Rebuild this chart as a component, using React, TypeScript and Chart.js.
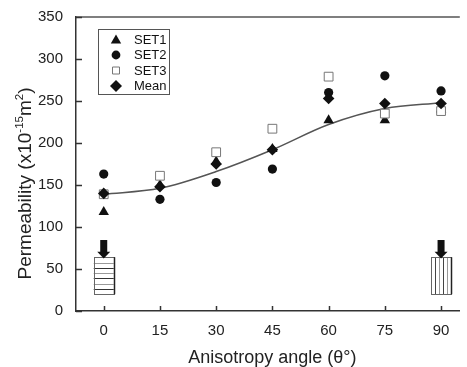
import React, { useEffect, useRef } from 'react';
import { Chart, registerables } from 'chart.js';
Chart.register(...registerables);

// ---- data ----
const ANGLES = [0, 15, 30, 45, 60, 75, 90];
const SET1 = [118, 150, 178, 193, 227, 227, 240];
const SET2 = [163, 133, 153, 169, 260, 280, 262];
const SET3 = [139, 161, 189, 217, 279, 235, 238];
const MEAN = [140, 148, 175, 192, 253, 247, 247];
const FIT_ANGLES = [0, 15, 30, 45, 60, 75, 90];
const FIT_VALUES = [139, 146, 166, 192, 222, 241, 248];
const X_TICKS = [0, 15, 30, 45, 60, 75, 90];
const Y_TICKS = [0, 50, 100, 150, 200, 250, 300, 350];
const LEGEND_LABELS = ['SET1', 'SET2', 'SET3', 'Mean'];
const INSET_ANGLES = [0, 90];
const INSET_RANGE = [20, 64];
const ARROW_RANGE = [62.5, 70.5, 84.5];

const FONT = "'Liberation Sans', Arial, sans-serif";
const INK = '#111';

function drawMarker(ctx: CanvasRenderingContext2D, style: string, x: number, y: number) {
  ctx.save();
  ctx.beginPath();
  if (style === 'triangle') {
    const r = 6;
    ctx.moveTo(x, y - r);
    ctx.lineTo(x + r * Math.sin((2 * Math.PI) / 3), y + r * 0.5);
    ctx.lineTo(x - r * Math.sin((2 * Math.PI) / 3), y + r * 0.5);
    ctx.closePath();
    ctx.fillStyle = INK;
    ctx.fill();
  } else if (style === 'circle') {
    ctx.arc(x, y, 4.4, 0, Math.PI * 2);
    ctx.fillStyle = INK;
    ctx.fill();
  } else if (style === 'rect') {
    ctx.rect(x - 3.5, y - 3.5, 7, 7);
    ctx.fillStyle = '#fff';
    ctx.fill();
    ctx.strokeStyle = '#777';
    ctx.lineWidth = 1;
    ctx.stroke();
  } else {
    const r = 6;
    ctx.moveTo(x - r, y);
    ctx.lineTo(x, y - r);
    ctx.lineTo(x + r, y);
    ctx.lineTo(x, y + r);
    ctx.closePath();
    ctx.fillStyle = INK;
    ctx.fill();
  }
  ctx.restore();
}

const decorPlugin = {
  id: 'decor',
  afterDraw(chart: any) {
    const { ctx, chartArea } = chart;
    const xs = chart.scales.x;
    const ys = chart.scales.y;
    ctx.save();

    // top frame line
    ctx.strokeStyle = '#555';
    ctx.lineWidth = 1.5;
    ctx.beginPath();
    ctx.moveTo(chartArea.left, chartArea.top);
    ctx.lineTo(chartArea.right, chartArea.top);
    ctx.stroke();

    // inward ticks
    ctx.strokeStyle = '#333';
    ctx.lineWidth = 1.5;
    ctx.beginPath();
    X_TICKS.forEach((v) => {
      const px = Math.round(xs.getPixelForValue(v)) + 0.5;
      ctx.moveTo(px, chartArea.bottom);
      ctx.lineTo(px, chartArea.bottom - 5);
    });
    Y_TICKS.forEach((v) => {
      const py = Math.round(ys.getPixelForValue(v)) + 0.5;
      ctx.moveTo(chartArea.left, py);
      ctx.lineTo(chartArea.left + 6, py);
    });
    ctx.stroke();

    // sample insets with arrows
    INSET_ANGLES.forEach((a, i) => {
      const cx = xs.getPixelForValue(a);
      const top = ys.getPixelForValue(INSET_RANGE[1]);
      const bot = ys.getPixelForValue(INSET_RANGE[0]);
      const left = cx - 10;
      const w = 20;
      const h = bot - top;
      ctx.fillStyle = '#fff';
      ctx.fillRect(left, top, w, h);
      ctx.lineWidth = 1;
      if (i === 0) {
        for (let k = 1; k < 7; k++) {
          const y = Math.round(top + (k * h) / 7) + 0.5;
          ctx.strokeStyle = k % 2 ? '#999' : '#333';
          ctx.beginPath();
          ctx.moveTo(left, y);
          ctx.lineTo(left + w, y);
          ctx.stroke();
        }
      } else {
        for (let k = 1; k < 5; k++) {
          const x = Math.round(left + (k * w) / 5) + 0.5;
          ctx.strokeStyle = k % 2 ? '#444' : '#999';
          ctx.beginPath();
          ctx.moveTo(x, top);
          ctx.lineTo(x, bot);
          ctx.stroke();
        }
      }
      ctx.strokeStyle = '#666';
      ctx.lineWidth = 1;
      ctx.strokeRect(Math.round(left) + 0.5, Math.round(top) + 0.5, w, Math.round(h));
      ctx.strokeStyle = '#222';
      ctx.lineWidth = 1.5;
      ctx.beginPath();
      ctx.moveTo(Math.round(left + w) + 0.5, top);
      ctx.lineTo(Math.round(left + w) + 0.5, bot);
      ctx.stroke();

      // arrow
      const tip = ys.getPixelForValue(ARROW_RANGE[0]);
      const headTop = ys.getPixelForValue(ARROW_RANGE[1]);
      const shaftTop = ys.getPixelForValue(ARROW_RANGE[2]);
      ctx.fillStyle = INK;
      ctx.fillRect(cx - 3.5, shaftTop, 7, headTop - shaftTop + 0.5);
      ctx.beginPath();
      ctx.moveTo(cx - 6.5, headTop);
      ctx.lineTo(cx + 6.5, headTop);
      ctx.lineTo(cx, tip);
      ctx.closePath();
      ctx.fill();
    });

    // legend
    ctx.strokeStyle = '#555';
    ctx.lineWidth = 1;
    ctx.strokeRect(98.5, 29.5, 71, 65);
    const styles = ['triangle', 'circle', 'rect', 'rectRot'];
    ctx.font = `13px ${FONT}`;
    ctx.textBaseline = 'middle';
    ctx.textAlign = 'left';
    LEGEND_LABELS.forEach((lab, i) => {
      const y = 39.5 + i * 15.5;
      drawMarker(ctx, styles[i], 116, y + (i === 0 ? 1 : 0));
      ctx.fillStyle = '#111';
      ctx.fillText(lab, 134, y + 0.5);
    });

    // x title
    ctx.fillStyle = '#222';
    ctx.font = `18px ${FONT}`;
    ctx.textAlign = 'center';
    ctx.textBaseline = 'alphabetic';
    const xc = (xs.getPixelForValue(X_TICKS[0]) + xs.getPixelForValue(X_TICKS[X_TICKS.length - 1])) / 2;
    ctx.fillText('Anisotropy angle (θ°)', xc, 363);

    // y title with superscripts
    const parts: [string, boolean][] = [
      ['Permeability (x10', false],
      ['-15', true],
      ['m', false],
      ['2', true],
      [')', false],
    ];
    const big = `19px ${FONT}`;
    const small = `11.5px ${FONT}`;
    let total = 0;
    parts.forEach(([t, sup]) => {
      ctx.font = sup ? small : big;
      total += ctx.measureText(t).width;
    });
    ctx.translate(31, 183.5);
    ctx.rotate(-Math.PI / 2);
    ctx.textAlign = 'left';
    let pos = -total / 2;
    parts.forEach(([t, sup]) => {
      ctx.font = sup ? small : big;
      ctx.fillText(t, pos, sup ? -8.5 : 0);
      pos += ctx.measureText(t).width;
    });
    ctx.restore();
  },
};

export default function App() {
  const ref = useRef<HTMLCanvasElement | null>(null);
  useEffect(() => {
    if (!ref.current) return;
    Chart.defaults.font.family = FONT;
    const pts = (vals: number[]) => ANGLES.map((a, i) => ({ x: a, y: vals[i] }));
    const chart = new Chart(ref.current, {
      type: 'scatter',
      data: {
        datasets: [
          {
            label: 'fit',
            type: 'line',
            data: FIT_ANGLES.map((a, i) => ({ x: a, y: FIT_VALUES[i] })),
            borderColor: '#555',
            borderWidth: 1.5,
            pointRadius: 0,
            cubicInterpolationMode: 'monotone',
            fill: false,
            order: 5,
          } as any,
          {
            label: 'SET1',
            data: pts(SET1),
            pointStyle: 'triangle',
            pointRadius: 6,
            backgroundColor: INK,
            borderColor: INK,
            borderWidth: 0,
            order: 4,
          },
          {
            label: 'SET2',
            data: pts(SET2),
            pointStyle: 'circle',
            pointRadius: 4.6,
            backgroundColor: INK,
            borderColor: INK,
            borderWidth: 0,
            order: 3,
          },
          {
            label: 'SET3',
            data: pts(SET3),
            pointStyle: 'rect',
            pointRadius: 6.2,
            backgroundColor: '#fff',
            borderColor: '#777',
            borderWidth: 1,
            order: 2,
          },
          {
            label: 'Mean',
            data: pts(MEAN),
            pointStyle: 'rectRot',
            pointRadius: 5.8,
            backgroundColor: INK,
            borderColor: INK,
            borderWidth: 0,
            order: 1,
          },
        ],
      },
      options: {
        responsive: false,
        animation: false,
        events: [],
        layout: { padding: { top: 17, left: 0, right: 0, bottom: 0 } },
        plugins: { legend: { display: false }, tooltip: { enabled: false }, title: { display: false } },
        scales: {
          x: {
            type: 'linear',
            min: -7.4,
            max: 95,
            grid: { display: false },
            border: { display: true, color: '#333', width: 1.5 },
            ticks: { font: { size: 15, family: FONT }, color: '#222', padding: 3, maxRotation: 0 },
            afterBuildTicks: (s: any) => {
              s.ticks = X_TICKS.map((v) => ({ value: v }));
            },
            afterFit: (s: any) => {
              s.height = 56;
            },
          },
          y: {
            type: 'linear',
            min: 0,
            max: 350,
            grid: { display: false },
            border: { display: true, color: '#333', width: 1.5 },
            ticks: { font: { size: 15, family: FONT }, color: '#222', padding: 5 },
            afterBuildTicks: (s: any) => {
              s.ticks = Y_TICKS.map((v) => ({ value: v }));
            },
            afterFit: (s: any) => {
              s.width = 76;
            },
          },
        },
      },
      plugins: [decorPlugin],
    });
    return () => chart.destroy();
  }, []);
  return (
    <div style={{ position: 'absolute', left: 0, top: 0, width: 467, height: 367 }}>
      <canvas ref={ref} width={467} height={367} style={{ display: 'block' }} />
    </div>
  );
}
